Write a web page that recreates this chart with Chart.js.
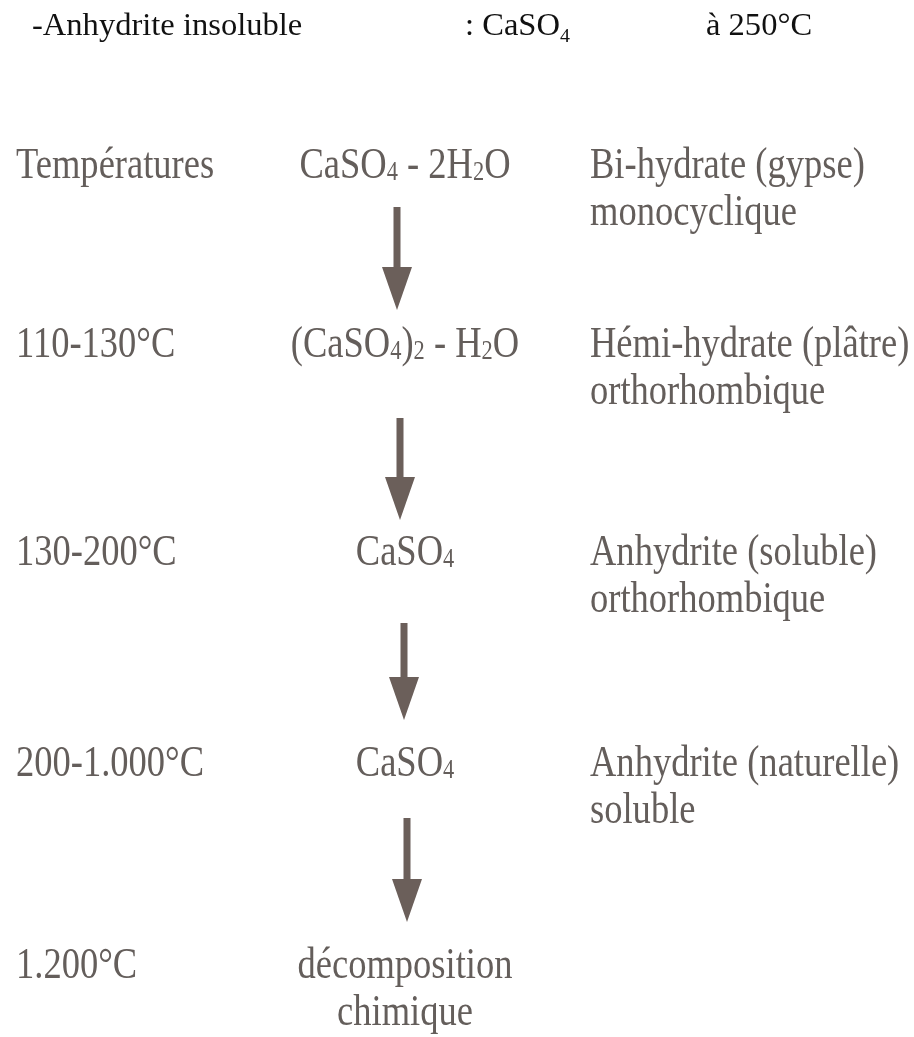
<!DOCTYPE html>
<html>
<head>
<meta charset="utf-8">
<title>Déshydratation du gypse</title>
<script src="https://cdn.jsdelivr.net/npm/chart.js@4.4.1/dist/chart.umd.min.js"></script>
<style>
  body { margin: 0; background: #fff; }
</style>
</head>
<body>
<canvas id="myChart" width="914" height="1037"></canvas>
<script>
// text content, "_" puts the next character as a subscript
var headerText = ['-Anhydrite insoluble', ': CaSO_4', 'à 250°C'];
var temperatures = ['Températures', '110-130°C', '130-200°C', '200-1.000°C', '1.200°C'];
var formulas = [['CaSO_4 - 2H_2O'], ['(CaSO_4)_2 - H_2O'], ['CaSO_4'], ['CaSO_4'], ['décomposition', 'chimique']];
var phases = [['Bi-hydrate (gypse)', 'monocyclique'], ['Hémi-hydrate (plâtre)', 'orthorhombique'],
              ['Anhydrite (soluble)', 'orthorhombique'], ['Anhydrite (naturelle)', 'soluble'], []];

// layout (pixels)
var rowY = [178, 357, 565, 776, 978];
var lineGap = 47;
var headerY = 35;
var headerX = [32, 465, 706];
var colLeft = 16, colMid = 405, colRight = 590;
var arrowX = [397, 400, 404, 407];
var arrowTop = [207, 418, 623, 818];
var arrowTip = [310, 520, 720, 922];
var headLen = 43, headHalf = 15;

var textColor = '#645e5b';
var arrowColor = '#6b5f5a';

function parseRich(str)
{
    var segs = [];
    for (var i = 0; i < str.length; i++) {
        if (str[i] == '_' && i + 1 < str.length) {
            segs.push({t: str[i + 1], sub: true});
            i++;
        } else {
            if (segs.length && !segs[segs.length - 1].sub) segs[segs.length - 1].t += str[i];
            else segs.push({t: str[i], sub: false});
        }
    }
    return segs;
}

function drawRich(ctx, str, x, y, align, size, sx, subDrop, color)
{
    var segs = parseRich(str);
    var w = 0;
    segs.forEach(function (s) {
        ctx.font = (s.sub ? Math.round(size * 0.62) : size) + 'px "Liberation Serif"';
        s.w = ctx.measureText(s.t).width;
        w += s.w;
    });
    var x0 = x;
    if (align == 'center') x0 = x - w * sx / 2;
    ctx.save();
    ctx.translate(x0, y);
    ctx.scale(sx, 1);
    ctx.fillStyle = color;
    ctx.textBaseline = 'alphabetic';
    ctx.textAlign = 'left';
    var cx = 0;
    segs.forEach(function (s) {
        ctx.font = (s.sub ? Math.round(size * 0.62) : size) + 'px "Liberation Serif"';
        ctx.fillText(s.t, cx, s.sub ? size * subDrop : 0);
        cx += s.w;
    });
    ctx.restore();
}

var diagramPlugin = {
    id: 'diagram',
    afterDatasetsDraw: function (chart)
    {
        var ctx = chart.ctx;
        var xs = chart.scales.x, ys = chart.scales.y;

        // arrow heads at the last point of each shaft
        chart.data.datasets.forEach(function (ds, i) {
            var p = ds.data[ds.data.length - 1];
            var px = xs.getPixelForValue(p.x), py = ys.getPixelForValue(p.y);
            var tip = ys.getPixelForValue(arrowTip[i]);
            ctx.save();
            ctx.fillStyle = arrowColor;
            ctx.beginPath();
            ctx.moveTo(px - headHalf, py);
            ctx.lineTo(px + headHalf, py);
            ctx.lineTo(px, tip);
            ctx.closePath();
            ctx.fill();
            ctx.restore();
        });

        // header line
        headerText.forEach(function (t, i) {
            drawRich(ctx, t, xs.getPixelForValue(headerX[i]), ys.getPixelForValue(headerY), 'left', 31, 1.05, 0.22, '#111');
        });

        // three columns
        temperatures.forEach(function (t, i) {
            var y = ys.getPixelForValue(rowY[i]);
            drawRich(ctx, t, xs.getPixelForValue(colLeft), y, 'left', 44, 0.83, 0.05, textColor);
            formulas[i].forEach(function (f, j) {
                drawRich(ctx, f, xs.getPixelForValue(colMid), ys.getPixelForValue(rowY[i] + j * lineGap), 'center', 44, 0.83, 0.05, textColor);
            });
            phases[i].forEach(function (f, j) {
                drawRich(ctx, f, xs.getPixelForValue(colRight), ys.getPixelForValue(rowY[i] + j * lineGap), 'left', 44, 0.83, 0.05, textColor);
            });
        });
    }
};

function buildArrows()
{
    var sets = [];
    for (var i = 0; i < arrowTop.length; i++) {
        sets.push({
            data: [{x: arrowX[i], y: arrowTop[i]}, {x: arrowX[i], y: arrowTip[i] - headLen}],
            borderColor: arrowColor,
            borderWidth: 7,
            borderCapStyle: 'butt',
            pointRadius: 0,
            fill: false
        });
    }
    return sets;
}

var ctxL = document.getElementById('myChart').getContext('2d');
var myChart = new Chart(ctxL, {
    type: 'line',
    data: { datasets: buildArrows() },
    options: {
        responsive: false,
        animation: false,
        layout: { padding: 0 },
        plugins: { legend: { display: false }, tooltip: { enabled: false } },
        scales: {
            x: { type: 'linear', min: 0, max: 914, display: false },
            y: { type: 'linear', min: 0, max: 1037, reverse: true, display: false }
        }
    },
    plugins: [diagramPlugin]
});
</script>
</body>
</html>
